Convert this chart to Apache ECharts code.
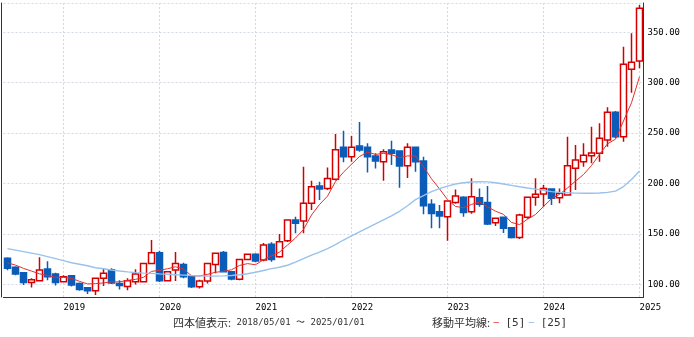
<!DOCTYPE html>
<html><head><meta charset="utf-8">
<script src="https://cdn.jsdelivr.net/npm/echarts@6/dist/echarts.min.js"></script>
<style>html,body{margin:0;padding:0;background:#fff}#c{width:694px;height:337px}</style>
</head><body><div id="c"></div>
<script>
const months = [
 '2018/06','2018/07','2018/08','2018/09','2018/10','2018/11','2018/12',
 '2019/01','2019/02','2019/03','2019/04','2019/05','2019/06','2019/07','2019/08','2019/09','2019/10','2019/11','2019/12',
 '2020/01','2020/02','2020/03','2020/04','2020/05','2020/06','2020/07','2020/08','2020/09','2020/10','2020/11','2020/12',
 '2021/01','2021/02','2021/03','2021/04','2021/05','2021/06','2021/07','2021/08','2021/09','2021/10','2021/11','2021/12',
 '2022/01','2022/02','2022/03','2022/04','2022/05','2022/06','2022/07','2022/08','2022/09','2022/10','2022/11','2022/12',
 '2023/01','2023/02','2023/03','2023/04','2023/05','2023/06','2023/07','2023/08','2023/09','2023/10','2023/11','2023/12',
 '2024/01','2024/02','2024/03','2024/04','2024/05','2024/06','2024/07','2024/08','2024/09','2024/10','2024/11','2024/12',
 '2025/01'];
const opens = [125.8,117,111.5,102,103.6,115.2,110.2,102.6,108.5,101, 96.6,93.8,106,114.5,101,97.8,102.6,102.6,120.8,131.3, 103.6,114.2,119.8,107.5,97.6,103.3,119.8,131.7,112.5,105, 124.8,129.8,124.1,139.7,127.4,143.3,163.8,162.8,180.4,197.5, 195.2,204.2,235.9,226.6,237.2,235.9,227.3,221.6,233.2,232.2, 217.7,235.9,222.3,179.4,172,167,181.3,186.3,172,185.9, 181.3,161.1,166.5,156.2,146.6,166.5,186.3,189.6,194.5,185.9, 188.6,215.1,221.6,227.6,230,243.2,270.6,246.4,313.3,321.5];
const closes = [115.9,110.2,102,104.6,114.2,107.5,102,107.5,99.3,95, 93.7,106,111,101.5,98.8,103.6,110.2,120.8,131.3,103.6, 112.5,120.8,107.5,97.6,103.3,120.8,130.8,112.5,105.3,124.8, 129.8,123.1,139,124.8,142.3,163.8,160.5,180.4,196.8,194.5, 205.1,233.4,226.6,235.9,233.2,226.6,222.3,231.5,230,217.4, 235.9,221.6,178,170.4,167.8,182.6,187.6,171.4,186.9,179.4, 159.8,165.5,155.6,146.6,168.8,186.3,189.3,195.2,185.3,190.3, 217.7,223.3,228,230.3,244.8,270.6,246.4,318.3,320.2,373.8];
const highs = [127,118,112,106,126.8,123,111.5,109,109,102, 97.5,106.5,116,116,104,106,115,121.5,144,133.3, 113,132,121.5,108,104.5,121.5,131.5,133,113,125.5, 130.5,131,141,141.7,150,164.5,167,216.7,202.8,201.8, 216,249,252.4,247.1,261,240,230,234,242.5,233, 240,236.5,226.6,184.3,178.7,183.2,194.2,187.5,205.2,195.2, 197.5,166,167,157,170,187,205.2,198.5,195,195.2, 246.4,238.2,240,256.3,259.7,275.6,272,335.7,349,377];
const lows = [114,109,99.3,97,103,104,99,102,98,93.7, 90.4,89.5,98.5,100.5,95,94.3,100,102,120,102.3, 103,103.3,106,96.5,96,101,111,112,104,104, 124,122,123,122.5,126.5,142,150.6,150.6,173.7,183.6, 193.6,203,221,221.6,231.5,211,215,202.8,218.4,195.8, 205.5,211.7,169.5,155.6,155.6,143.3,180,167.1,170,177, 159,158,151,145.5,145,165,178,177,178.7,180.4, 188,193.6,216.7,220,221.6,236.5,245,241.5,290,314.3];
const ma5 = [121.4,119.1,115.9,113.2,110.5,108.8,107,107,106,103, 100.5,100.7,101.5,102.5,102.5,104,105,107,112.9,113.9, 115.5,117.5,115.2,108.6,108.3,110,112,113,114.5,118.8, 120.6,119.5,124.4,128.3,132,139,146,154.4,168.8,179.2, 187.5,202,211.3,219.1,226.8,231.1,228.9,229.9,228.7,225.6, 227.4,227.3,216.6,204.7,194.7,184.1,177.3,176,179.3,181.6, 177,172.6,169.4,161.4,159.3,164.6,169.3,177.2,185,189.3, 195.6,202.4,208.9,217.9,228.8,239.4,244,262.1,280.1,305.9];
const ma25 = [135.5,134,132.5,131,129.5,127.5,125.5,123.5,121.5,120, 118.5,116.5,115.5,114.3,113.3,112.4,111.7,111.2,110.9,110.4, 110,109.6,109.2,108.8,108.5,108.3,108.2,108.4,108.8,109.5, 110.6,112,113.8,115.6,117,119,122,125.5,129,132, 135.5,139.5,144,148,152,156,160,164,168,172.5, 178,184,188,192,195,197.5,199.5,200.8,201.5,201.8, 201.6,200.8,199.6,198.2,196.8,195.6,194.5,193.3,192,191.2, 190.8,190.5,190.3,190.3,190.6,191.2,192.5,197,204,212.5];
const rangeText = '2018/05/01 〜 2025/01/01';
const maLabels = ['[5]', '[25]'];

const chart = echarts.init(document.getElementById('c'), null, {renderer: 'canvas'});
const candle = months.map((m, i) => [opens[i], closes[i], lows[i], highs[i]]);
const isJan = (i) => months[i].endsWith('/01');
const gridColor = '#d2d9e4';
const mono = '"DejaVu Sans Mono", monospace';
chart.setOption({
  animation: false,
  grid: {left: 3.5, right: 50.5, top: 3, bottom: 40},
  xAxis: {
    type: 'category', data: months, boundaryGap: true,
    axisLine: {show: true, onZero: false, lineStyle: {color: '#333', width: 1}},
    axisTick: {show: false},
    axisLabel: {interval: (i) => isJan(i), formatter: (v) => v.slice(0, 4), align: 'left', margin: 6,
      color: '#000', fontFamily: mono, fontSize: 9},
    splitLine: {show: true, interval: (i) => isJan(i), alignWithLabel: true,
      lineStyle: {color: gridColor, type: [2, 2], width: 1}}
  },
  yAxis: [{
    type: 'value', position: 'right', min: 87.5, max: 379,
    axisLine: {show: true, lineStyle: {color: '#333'}},
    axisTick: {show: false},
    axisLabel: {showMinLabel: false, showMaxLabel: false, formatter: (v) => v.toFixed(2), margin: 4,
      color: '#000', fontFamily: mono, fontSize: 9},
    splitLine: {show: true, lineStyle: {color: gridColor, type: [2, 2], width: 1}}
  }, {
    type: 'value', position: 'left', min: 87.5, max: 379, offset: 2,
    axisLine: {show: true, lineStyle: {color: '#333'}},
    axisTick: {show: false}, axisLabel: {show: false}, splitLine: {show: false}
  }],
  series: [{
    type: 'candlestick', data: candle, barWidth: 6,
    itemStyle: {color: '#ffffff', color0: '#0a5cb8', borderColor: '#d40000', borderColor0: '#0a5cb8', borderWidth: 1.5}
  }, {
    type: 'line', data: ma5, symbol: 'none', z: 4,
    lineStyle: {color: '#e0302f', width: 1}
  }, {
    type: 'line', data: ma25, symbol: 'none', z: 4,
    lineStyle: {color: '#98c2ec', width: 1.4}
  }],
  graphic: [{
    type: 'text', left: 173, top: 317,
    style: {
      text: '{a|四本値表示:}{b| ' + rangeText + '}',
      rich: {
        a: {font: '11px "Noto Sans CJK JP"', fill: '#333'},
        b: {font: '9px ' + mono, fill: '#333'}
      }
    }
  }, {
    type: 'text', left: 432, top: 317,
    style: {
      text: '{a|移動平均線:} {r|—}{b| ' + maLabels[0] + '} {u|—}{b| ' + maLabels[1] + '}',
      rich: {
        a: {font: '11px "Noto Sans CJK JP"', fill: '#333'},
        r: {font: '9px ' + mono, fill: '#e00000'},
        u: {font: '9px ' + mono, fill: '#6aa8e8'},
        b: {font: '11px ' + mono, fill: '#333'}
      }
    }
  }]
});
</script></body></html>
